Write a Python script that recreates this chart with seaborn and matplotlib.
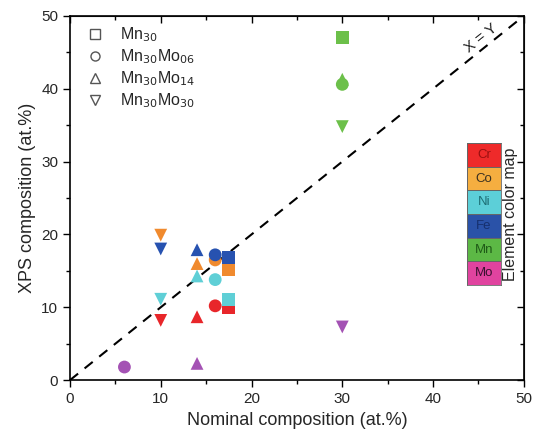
import numpy as np
import pandas as pd
import seaborn as sns
import matplotlib.pyplot as plt
from matplotlib.colors import ListedColormap
from matplotlib.lines import Line2D

# nominal vs XPS composition (at.%) per alloy, element order: Cr, Co, Ni, Fe, Mn, Mo
elements = ['Cr', 'Co', 'Ni', 'Fe', 'Mn', 'Mo']
alloys = ['Mn$_{30}$', 'Mn$_{30}$Mo$_{06}$', 'Mn$_{30}$Mo$_{14}$', 'Mn$_{30}$Mo$_{30}$']

mn30_nom = [17.5, 17.5, 17.5, 17.5, 30]
mn30_xps = [10.0, 15.2, 11.1, 16.8, 47.0]
mo06_nom = [16, 16, 16, 16, 30, 6]
mo06_xps = [10.2, 16.5, 13.8, 17.2, 40.6, 1.8]
mo14_nom = [14, 14, 14, 14, 30, 14]
mo14_xps = [8.7, 16.0, 14.3, 17.9, 41.3, 2.3]
mo30_nom = [10, 10, 10, 10, 30, 30]
mo30_xps = [8.2, 19.9, 11.1, 18.0, 34.8, 7.3]

marker_colors = ['#e8262a', '#f08a2e', '#5fcfd6', '#2752b0', '#6cc04a', '#a452b4']
map_colors = ['#ee2a2a', '#f5ae40', '#5ccfd8', '#2a52a8', '#5cb845', '#e0439f']
map_text = ['#9a1010', '#3a3020', '#1d6f75', '#16306e', '#1f5a17', '#3a1030']
markers = ['s', 'o', '^', 'v']

rows = []
for alloy, nom, xps in zip(alloys, [mn30_nom, mo06_nom, mo14_nom, mo30_nom],
                           [mn30_xps, mo06_xps, mo14_xps, mo30_xps]):
    for el, n, x in zip(elements, nom, xps):
        rows.append([alloy, el, n, x])
df = pd.DataFrame(rows, columns=['Alloy', 'Element', 'Nominal', 'XPS'])

sns.set_style('ticks')
plt.rcParams['font.family'] = ['Liberation Sans', 'DejaVu Sans']

fig = plt.figure(figsize=(5.34, 4.41), dpi=100)
ax = fig.add_axes([0.131, 0.138, 0.850, 0.826])

ax.plot([0, 50], [0, 50], ls=(0, (5, 4)), color='black', lw=1.5, zorder=1)
ax.text(45.3, 47.0, 'X = Y', rotation=38.7, ha='center', va='center', fontsize=11, color='#222222')

sns.scatterplot(data=df, x='Nominal', y='XPS', hue='Element', style='Alloy',
                hue_order=elements, palette=marker_colors,
                style_order=alloys, markers=markers, s=85, linewidth=0,
                legend=False, ax=ax, zorder=3)

major = np.arange(0, 51, 10)
minor = np.arange(5, 50, 10)
ax.set_xlim(0, 50)
ax.set_ylim(0, 50)
ax.set_xticks(major)
ax.set_yticks(major)
ax.set_xticks(minor, minor=True)
ax.set_yticks(minor, minor=True)
ax.tick_params(which='both', direction='out', labelsize=11, width=1, color='black')
ax.tick_params(which='major', length=5)
ax.tick_params(which='minor', length=3)

# mirrored ticks pointing inwards on top and right
top = ax.secondary_xaxis('top')
right = ax.secondary_yaxis('right')
top.set_xticks(major)
top.set_xticks(minor, minor=True)
right.set_yticks(major)
right.set_yticks(minor, minor=True)
for sec in (top, right):
    sec.tick_params(which='both', direction='in', labelleft=False, labelright=False,
                    labeltop=False, labelbottom=False, width=1, color='black')
    sec.tick_params(which='major', length=5)
    sec.tick_params(which='minor', length=3)

for s in ax.spines.values():
    s.set_linewidth(1.2)
    s.set_color('black')
ax.set_xlabel('Nominal composition (at.%)', fontsize=13)
ax.set_ylabel('XPS composition (at.%)', fontsize=13)

handles = [Line2D([], [], marker=m, ls='none', markerfacecolor='none',
                  markeredgecolor='#555555', markersize=6.5, markeredgewidth=1)
           for m in markers]
ax.legend(handles, alloys, loc='upper left', bbox_to_anchor=(0.012, 1.0),
          frameon=False, fontsize=11.5, handlelength=1.2, handletextpad=1.0,
          labelspacing=0.2, borderaxespad=0.2, borderpad=0.4)

# element colour map
cax = fig.add_axes([467 / 534, 1 - 285 / 441, 34 / 534, 142 / 441])
cmap = ListedColormap(map_colors)
grid = np.arange(6).reshape(6, 1)
labels = np.array(elements).reshape(6, 1)
sns.heatmap(grid, cmap=cmap, cbar=False, annot=labels, fmt='', ax=cax,
            linewidths=0.5, linecolor='#666666', annot_kws={'fontsize': 9.5})
for t, c in zip(cax.texts, map_text):
    t.set_color(c)
cax.set_xticks([])
cax.set_yticks([])
for s in cax.spines.values():
    s.set_visible(True)
    s.set_linewidth(0.6)
    s.set_color('#666666')
fig.text(511 / 534, 1 - 214 / 441, 'Element color map', rotation=90,
         ha='center', va='center', fontsize=11.5)

fig.savefig('out.png', dpi=100)
